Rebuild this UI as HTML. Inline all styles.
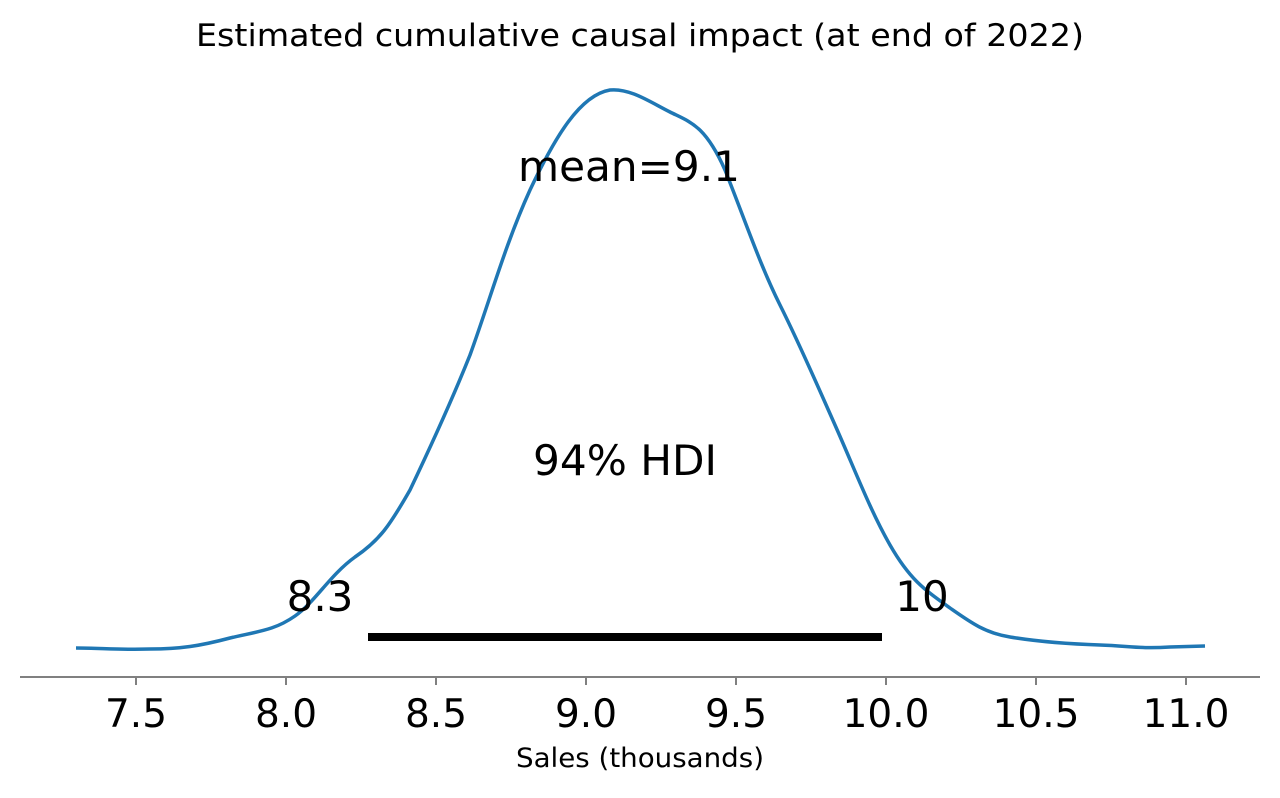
<!DOCTYPE html>
<html><head><meta charset="utf-8"><style>body{margin:0;background:#fff}</style></head><body>
<svg width="1280" height="793" viewBox="0 0 1280 793" xmlns="http://www.w3.org/2000/svg" font-family="DejaVu Sans, Liberation Sans, sans-serif">
<rect width="1280" height="793" fill="#fff"/>
<text x="640" y="46" font-size="31" text-anchor="middle" fill="#000" textLength="888" lengthAdjust="spacingAndGlyphs">Estimated cumulative causal impact (at end of 2022)</text>
<path d="M76,648 C100,648 120,650 150,649 C180,649 200,646 230,638 C260,631 275,630 295,616 C315,602 330,575 355,557 C380,540 390,525 410,490 C430,448 450,405 470,355 C490,300 505,245 530,190 C555,137 580,95 610,90 C630,88 650,102 670,112 C690,122 705,125 725,170 C745,220 760,265 780,305 C800,345 815,380 835,425 C855,470 870,510 890,545 C910,580 925,590 950,608 C970,622 985,633 1010,637 C1040,642 1070,644 1100,645 C1130,646 1140,649 1170,647 L1205,646" fill="none" stroke="#1f77b4" stroke-width="3.5"/>
<line x1="368" y1="637" x2="882" y2="637" stroke="#000" stroke-width="8"/>
<text x="629" y="181" font-size="42" text-anchor="middle" textLength="222" lengthAdjust="spacingAndGlyphs">mean=9.1</text>
<text x="625" y="475" font-size="42" text-anchor="middle" textLength="184" lengthAdjust="spacingAndGlyphs">94% HDI</text>
<text x="320" y="611" font-size="42" text-anchor="middle">8.3</text>
<text x="922" y="611" font-size="42" text-anchor="middle">10</text>
<line x1="20" y1="677" x2="1260" y2="677" stroke="#808080" stroke-width="2"/>
<g stroke="#808080" stroke-width="2">
<line x1="136" y1="677" x2="136" y2="685"/><line x1="286" y1="677" x2="286" y2="685"/><line x1="436" y1="677" x2="436" y2="685"/><line x1="586" y1="677" x2="586" y2="685"/><line x1="736" y1="677" x2="736" y2="685"/><line x1="886" y1="677" x2="886" y2="685"/><line x1="1036" y1="677" x2="1036" y2="685"/><line x1="1186" y1="677" x2="1186" y2="685"/>
</g>
<g font-size="39" text-anchor="middle">
<text x="136" y="727">7.5</text><text x="286" y="727">8.0</text><text x="436" y="727">8.5</text><text x="586" y="727">9.0</text><text x="736" y="727">9.5</text><text x="886" y="727">10.0</text><text x="1036" y="727">10.5</text><text x="1186" y="727">11.0</text>
</g>
<text x="640" y="767" font-size="27" text-anchor="middle" textLength="248" lengthAdjust="spacingAndGlyphs">Sales (thousands)</text>
</svg>
</body></html>
